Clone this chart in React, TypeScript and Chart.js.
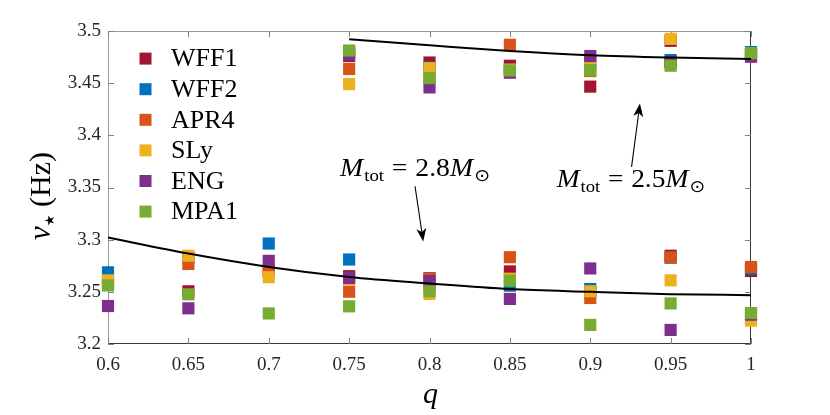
import React, { useEffect, useRef } from "react";
import { Chart, registerables } from "chart.js";

Chart.register(...registerables);

// ---------- data ----------
const seriesNames = ["WFF1", "WFF2", "APR4", "SLy", "ENG", "MPA1"];
const seriesColors = ["#A2142F", "#0072BD", "#D95319", "#EDB120", "#7E2F8E", "#77AC30"];

// mass ratios for the two total-mass groups
const qLow = [0.6, 0.65, 0.7, 0.75, 0.8, 0.85, 0.9, 0.95, 1]; // M_tot = 2.8
const qHigh = [0.75, 0.8, 0.85, 0.9, 0.95, 1]; // M_tot = 2.5

const wff1Low = [3.258, 3.2505, 3.2703, 3.265, 3.263, 3.2696, 3.25, 3.2846, 3.27];
const wff2Low = [3.2687, 3.283, 3.2963, 3.281, 3.255, 3.2559, 3.2527, 3.2827, 3.2722];
const apr4Low = [3.259, 3.2767, 3.27, 3.2501, 3.2624, 3.2832, 3.2441, 3.283, 3.2738];
const slyLow = [3.261, 3.2846, 3.264, 3.262, 3.248, 3.2626, 3.2505, 3.261, 3.2224];
const engLow = [3.2364, 3.2342, 3.2797, 3.2633, 3.2604, 3.2432, 3.2724, 3.2135, 3.2281];
const mpa1Low = [3.2561, 3.2476, 3.2293, 3.2361, 3.2505, 3.2607, 3.2183, 3.2389, 3.2297];

const wff1High = [3.476, 3.4698, 3.4667, 3.4467, 3.4906, 3.477];
const wff2High = [3.48, 3.465, 3.463, 3.47, 3.4721, 3.4798];
const apr4High = [3.4636, 3.456, 3.4868, 3.4616, 3.47, 3.478];
const slyHigh = [3.4491, 3.4644, 3.463, 3.468, 3.4925, 3.478];
const engHigh = [3.4775, 3.4459, 3.46, 3.476, 3.47, 3.4753];
const mpa1High = [3.4813, 3.4549, 3.4622, 3.4625, 3.4667, 3.4788];

// fitted curves
const curveLow = [3.3021, 3.2867, 3.2739, 3.2643, 3.258, 3.2526, 3.25, 3.2478, 3.2468];
const curveHigh = [3.492, 3.4863, 3.4808, 3.4767, 3.4745, 3.4732];

const lowSeries = [wff1Low, wff2Low, apr4Low, slyLow, engLow, mpa1Low];
const highSeries = [wff1High, wff2High, apr4High, slyHigh, engHigh, mpa1High];

// ticks
const xTicks = [0.6, 0.65, 0.7, 0.75, 0.8, 0.85, 0.9, 0.95, 1];
const xTickLabels = ["0.6", "0.65", "0.7", "0.75", "0.8", "0.85", "0.9", "0.95", "1"];
const yTicks = [3.2, 3.25, 3.3, 3.35, 3.4, 3.45, 3.5];
const yTickLabels = ["3.2", "3.25", "3.3", "3.35", "3.4", "3.45", "3.5"];

// annotations (data coordinates)
const annot1Text = { q0: 0.7443, q1: 0.8376, v: 3.3608, mass: "2.8" };
const annot2Text = { q0: 0.8791, q1: 0.9714, v: 3.3506, mass: "2.5" };
const arrow1 = { q0: 0.791, v0: 3.3512, q1: 0.7961, v1: 3.2983 };
const arrow2 = { q0: 0.9257, v0: 3.3697, q1: 0.9309, v1: 3.4304 };

const SERIF = "'Liberation Serif', 'Times New Roman', serif";

function drawArrow(ctx: CanvasRenderingContext2D, x0: number, y0: number, x1: number, y1: number) {
  const ang = Math.atan2(y1 - y0, x1 - x0);
  const headLen = 13;
  const headHalf = 5;
  const back = 3.5;
  ctx.save();
  ctx.strokeStyle = "#000";
  ctx.fillStyle = "#000";
  ctx.lineWidth = 1.1;
  ctx.beginPath();
  ctx.moveTo(x0, y0);
  ctx.lineTo(x1 - Math.cos(ang) * (headLen - back), y1 - Math.sin(ang) * (headLen - back));
  ctx.stroke();
  ctx.translate(x1, y1);
  ctx.rotate(ang);
  ctx.beginPath();
  ctx.moveTo(0, 0);
  ctx.lineTo(-headLen, -headHalf);
  ctx.lineTo(-headLen + back, 0);
  ctx.lineTo(-headLen, headHalf);
  ctx.closePath();
  ctx.fill();
  ctx.restore();
}

function drawMassLabel(ctx: CanvasRenderingContext2D, xLeft: number, xRight: number, baseline: number, mass: string) {
  const main = 25;
  const sub = 17;
  const segs = [
    { t: "M", f: `italic ${main}px ${SERIF}`, dy: 0, gap: 0 },
    { t: "tot", f: `${sub}px ${SERIF}`, dy: 5, gap: 1 },
    { t: "=", f: `${main}px ${SERIF}`, dy: 0, gap: 7 },
    { t: mass, f: `${main}px ${SERIF}`, dy: 0, gap: 7 },
    { t: "M", f: `italic ${main}px ${SERIF}`, dy: 0, gap: 0 },
    { t: "⊙", f: `${sub}px 'DejaVu Sans', sans-serif`, dy: 5, gap: 1 },
  ];
  ctx.save();
  let total = 0;
  for (const s of segs) {
    ctx.font = s.f;
    total += s.gap + ctx.measureText(s.t).width;
  }
  const sx = (xRight - xLeft) / total;
  ctx.translate(xLeft, baseline);
  ctx.scale(sx, 1);
  ctx.fillStyle = "#000";
  ctx.textBaseline = "alphabetic";
  ctx.textAlign = "left";
  let x = 0;
  for (const s of segs) {
    ctx.font = s.f;
    x += s.gap;
    ctx.fillText(s.t, x, s.dy);
    x += ctx.measureText(s.t).width;
  }
  ctx.restore();
}

const framePlugin = {
  id: "frame",
  beforeDatasetsDraw(chart: any) {
    const { ctx, chartArea } = chart;
    const { left, right, top, bottom } = chartArea;
    const xs = chart.scales.x;
    const ys = chart.scales.y;
    ctx.save();
    ctx.lineWidth = 1;
    // left & top (lighter)
    ctx.strokeStyle = "#9a9a9a";
    ctx.beginPath();
    ctx.moveTo(left + 0.5, bottom);
    ctx.lineTo(left + 0.5, top + 0.5);
    ctx.lineTo(right, top + 0.5);
    ctx.stroke();
    // right & bottom (darker)
    ctx.strokeStyle = "#3a3a3a";
    ctx.beginPath();
    ctx.moveTo(left, bottom - 0.5);
    ctx.lineTo(right - 0.5, bottom - 0.5);
    ctx.lineTo(right - 0.5, top);
    ctx.stroke();
    // inward ticks
    const tl = 6;
    ctx.strokeStyle = "#808080";
    ctx.beginPath();
    for (const v of xTicks) {
      const px = Math.round(xs.getPixelForValue(v)) + 0.5;
      ctx.moveTo(px, bottom);
      ctx.lineTo(px, bottom - tl);
      ctx.moveTo(px, top);
      ctx.lineTo(px, top + tl);
    }
    for (const v of yTicks) {
      const py = Math.round(ys.getPixelForValue(v)) + 0.5;
      ctx.moveTo(left, py);
      ctx.lineTo(left + tl, py);
      ctx.moveTo(right, py);
      ctx.lineTo(right - tl, py);
    }
    ctx.stroke();
    ctx.restore();
  },
  afterDraw(chart: any) {
    const { ctx, chartArea } = chart;
    const { left, right, top } = chartArea;
    const xs = chart.scales.x;
    const ys = chart.scales.y;
    ctx.save();

    // legend
    const side = 12;
    for (let i = 0; i < seriesNames.length; i++) {
      const cy = top + 27.6 + i * 30.6;
      const cx = left + 37.5;
      ctx.fillStyle = seriesColors[i];
      ctx.fillRect(cx - side / 2, cy - side / 2, side, side);
      ctx.fillStyle = "#000";
      ctx.font = `26px ${SERIF}`;
      ctx.textBaseline = "middle";
      ctx.textAlign = "left";
      ctx.fillText(seriesNames[i], left + 63, cy + 1);
    }

    // annotations
    for (const a of [annot1Text, annot2Text]) {
      drawMassLabel(ctx, xs.getPixelForValue(a.q0), xs.getPixelForValue(a.q1), ys.getPixelForValue(a.v), a.mass);
    }
    for (const a of [arrow1, arrow2]) {
      drawArrow(ctx, xs.getPixelForValue(a.q0), ys.getPixelForValue(a.v0), xs.getPixelForValue(a.q1), ys.getPixelForValue(a.v1));
    }

    // x title
    ctx.fillStyle = "#000";
    ctx.font = `italic 30px ${SERIF}`;
    ctx.textAlign = "center";
    ctx.textBaseline = "alphabetic";
    ctx.fillText("q", (left + right) / 2 + 1, 403);

    // y title (rotated)
    ctx.save();
    ctx.translate(50, 240);
    ctx.rotate(-Math.PI / 2);
    ctx.textAlign = "left";
    ctx.textBaseline = "alphabetic";
    ctx.font = `italic 31px ${SERIF}`;
    ctx.fillText("ν", 0, 0);
    const nuW = ctx.measureText("ν").width;
    ctx.font = `13px 'DejaVu Sans', sans-serif`;
    ctx.textBaseline = "middle";
    ctx.fillText("★", nuW, 1);
    ctx.textBaseline = "alphabetic";
    ctx.font = `30px ${SERIF}`;
    ctx.fillText("(Hz)", 33, 0);
    ctx.restore();

    ctx.restore();
  },
};

export default function App() {
  const canvasRef = useRef<HTMLCanvasElement | null>(null);

  useEffect(() => {
    const canvas = canvasRef.current;
    if (!canvas) return;

    const datasets: any[] = [];
    datasets.push({
      label: "curve 2.8",
      data: qLow.map((q, i) => ({ x: q, y: curveLow[i] })),
      showLine: true,
      borderColor: "#000",
      borderWidth: 2,
      pointRadius: 0,
      cubicInterpolationMode: "monotone",
      clip: false,
      order: 0,
    });
    datasets.push({
      label: "curve 2.5",
      data: qHigh.map((q, i) => ({ x: q, y: curveHigh[i] })),
      showLine: true,
      borderColor: "#000",
      borderWidth: 2,
      pointRadius: 0,
      cubicInterpolationMode: "monotone",
      clip: false,
      order: 0,
    });
    seriesNames.forEach((name, s) => {
      const pts = [
        ...qLow.map((q, i) => ({ x: q, y: lowSeries[s][i] })),
        ...qHigh.map((q, i) => ({ x: q, y: highSeries[s][i] })),
      ];
      datasets.push({
        label: name,
        data: pts,
        showLine: false,
        pointStyle: "rect",
        pointRadius: 8.6,
        pointBorderWidth: 0,
        borderWidth: 0,
        backgroundColor: seriesColors[s],
        pointBackgroundColor: seriesColors[s],
        clip: false,
        order: seriesNames.length - s,
      });
    });

    const chart = new Chart(canvas, {
      type: "scatter",
      data: { datasets },
      options: {
        animation: false,
        responsive: false,
        maintainAspectRatio: false,
        devicePixelRatio: 1,
        layout: { padding: { top: 31, right: 79, left: 0, bottom: 0 } },
        plugins: { legend: { display: false }, tooltip: { enabled: false } },
        scales: {
          x: {
            type: "linear",
            min: 0.6,
            max: 1,
            afterBuildTicks: (s: any) => {
              s.ticks = xTicks.map((v) => ({ value: v }));
            },
            afterFit: (s: any) => {
              s.height = 71;
            },
            ticks: {
              autoSkip: false,
              maxRotation: 0,
              padding: 10,
              color: "#262626",
              font: { family: SERIF, size: 19 },
              callback: (_v: any, i: number) => xTickLabels[i],
            },
            grid: { display: false, drawTicks: false },
            border: { display: false },
          },
          y: {
            type: "linear",
            min: 3.2,
            max: 3.5,
            afterBuildTicks: (s: any) => {
              s.ticks = yTicks.map((v) => ({ value: v }));
            },
            afterFit: (s: any) => {
              s.width = 108;
            },
            ticks: {
              autoSkip: false,
              padding: 7,
              color: "#262626",
              font: { family: SERIF, size: 19 },
              callback: (_v: any, i: number) => yTickLabels[i],
            },
            grid: { display: false, drawTicks: false },
            border: { display: false },
          },
        },
      } as any,
      plugins: [framePlugin],
    });

    return () => chart.destroy();
  }, []);

  return (
    <div style={{ position: "fixed", left: 0, top: 0, width: 830, height: 415, background: "#fff" }}>
      <canvas ref={canvasRef} width={830} height={415} style={{ width: 830, height: 415, display: "block" }} />
    </div>
  );
}
